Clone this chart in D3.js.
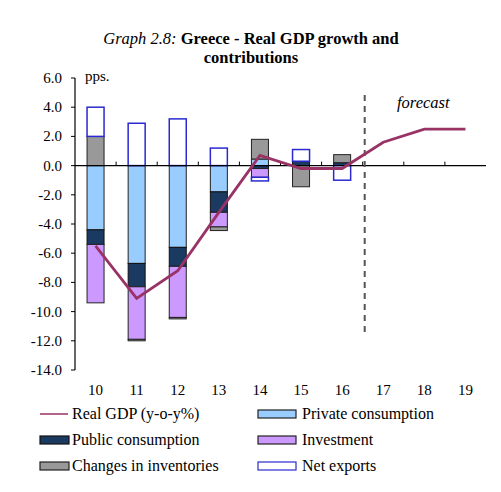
<!DOCTYPE html>
<html><head><meta charset="utf-8">
<script src="https://cdn.jsdelivr.net/npm/d3@7"></script>
<style>body{margin:0;background:#fff;} text{font-family:"Liberation Serif","Times New Roman",serif;}</style>
</head><body>
<svg id="c" width="501" height="492"></svg>
<script>
const years = ["10","11","12","13","14","15","16","17","18","19"];
const yTicks = [6,4,2,0,-2,-4,-6,-8,-10,-12,-14];
const gdp = [-5.5,-9.1,-7.2,-3.2,0.7,-0.2,-0.2,1.6,2.5,2.5];
const privateCons = [-4.4,-6.7,-5.6,-1.8,0.45,0,0,null,null,null];
const publicCons = [-1.0,-1.6,-1.3,-1.4,-0.2,0.3,0.2,null,null,null];
const investment = [-4.0,-3.6,-3.5,-1.0,-0.6,0,0,null,null,null];
const inventories = [2.0,-0.1,-0.1,-0.25,1.35,-1.45,0.55,null,null,null];
const netExports = [2.0,2.9,3.2,1.2,-0.25,0.8,-1.0,null,null,null];

const series = [
  {name:"Private consumption", vals:privateCons, fill:"#99ccff", stroke:"#222"},
  {name:"Public consumption", vals:publicCons, fill:"#1b3a62", stroke:"#111"},
  {name:"Investment", vals:investment, fill:"#cc99ff", stroke:"#222"},
  {name:"Changes in inventories", vals:inventories, fill:"#999999", stroke:"#222"},
  {name:"Net exports", vals:netExports, fill:"#ffffff", stroke:"#2a2ad0"}
];

const svg = d3.select("#c");
const x = d3.scaleBand().domain(years).range([75,486]);
const y = d3.scaleLinear().domain([-14,6]).range([370,78]);
const bw = 17;

// title
const t1 = svg.append("text").attr("x",251).attr("y",44).attr("text-anchor","middle").attr("font-size",16.5);
t1.append("tspan").attr("font-style","italic").text("Graph 2.8: ");
t1.append("tspan").attr("font-weight","bold").text("Greece - Real GDP growth and");
svg.append("text").attr("x",251).attr("y",63).attr("text-anchor","middle").attr("font-size",16.5).attr("font-weight","bold").text("contributions");

// bars (diverging stack)
years.forEach((yr,i)=>{
  let pos=0, neg=0;
  series.forEach(s=>{
    const v = s.vals[i];
    if(v==null || v===0) return;
    let y0,y1;
    if(v>0){y0=pos; y1=pos+v; pos=y1;} else {y0=neg; y1=neg+v; neg=y1;}
    svg.append("rect")
      .attr("x", x(yr)+x.bandwidth()/2-bw/2)
      .attr("width", bw)
      .attr("y", y(Math.max(y0,y1)))
      .attr("height", Math.abs(y(y0)-y(y1)))
      .attr("fill", s.fill).attr("stroke", s.stroke).attr("stroke-width", s.name==="Net exports"?1.5:1);
  });
});

// y axis
svg.append("line").attr("x1",75).attr("x2",75).attr("y1",y(6)).attr("y2",y(-14)).attr("stroke","#000").attr("stroke-width",1.2);
yTicks.forEach(v=>{
  svg.append("line").attr("x1",71).attr("x2",75).attr("y1",y(v)).attr("y2",y(v)).attr("stroke","#000");
  svg.append("text").attr("x",62).attr("y",y(v)+5).attr("text-anchor","end").attr("font-size",15).text(v.toFixed(1));
});
svg.append("text").attr("x",85).attr("y",81).attr("font-size",15).text("pps.");

// zero line + ticks
svg.append("line").attr("x1",75).attr("x2",486).attr("y1",y(0)).attr("y2",y(0)).attr("stroke","#000").attr("stroke-width",1.2);
years.forEach((yr,i)=>{
  if(i>0) svg.append("line").attr("x1",x(yr)).attr("x2",x(yr)).attr("y1",y(0)).attr("y2",y(0)-4).attr("stroke","#000");
  svg.append("text").attr("x",x(yr)+x.bandwidth()/2).attr("y",395).attr("text-anchor","middle").attr("font-size",15).text(yr);
});

// forecast dashed line
svg.append("line").attr("x1",x("17")+2).attr("x2",x("17")+2).attr("y1",95).attr("y2",332)
  .attr("stroke","#555").attr("stroke-width",2).attr("stroke-dasharray","6,5");
svg.append("text").attr("x",397).attr("y",108).attr("font-size",16.5).attr("font-style","italic").text("forecast");

// GDP line
const line = d3.line().x((d,i)=>x(years[i])+x.bandwidth()/2).y(d=>y(d));
svg.append("path").datum(gdp).attr("d",line).attr("fill","none").attr("stroke","#993366").attr("stroke-width",2.8);

// legend
const lg = [
  {name:"Real GDP (y-o-y%)", type:"line", col:0, row:0},
  {name:"Private consumption", s:series[0], col:1, row:0},
  {name:"Public consumption", s:series[1], col:0, row:1},
  {name:"Investment", s:series[2], col:1, row:1},
  {name:"Changes in inventories", s:series[3], col:0, row:2},
  {name:"Net exports", s:series[4], col:1, row:2}
];
lg.forEach(d=>{
  const sx = d.col===0?40:258, tx = d.col===0?72:302, cy = 414 + d.row*26;
  if(d.type==="line"){
    svg.append("line").attr("x1",sx).attr("x2",sx+28).attr("y1",cy).attr("y2",cy).attr("stroke","#993366").attr("stroke-width",1.5);
  } else {
    const w = d.col===0?29:38;
    svg.append("rect").attr("x",sx).attr("y",cy-4).attr("width",w).attr("height",8)
      .attr("fill",d.s.fill).attr("stroke",d.s.stroke).attr("stroke-width",1.2);
  }
  svg.append("text").attr("x",tx).attr("y",cy+5).attr("font-size",16).text(d.name);
});
</script>
</body></html>
